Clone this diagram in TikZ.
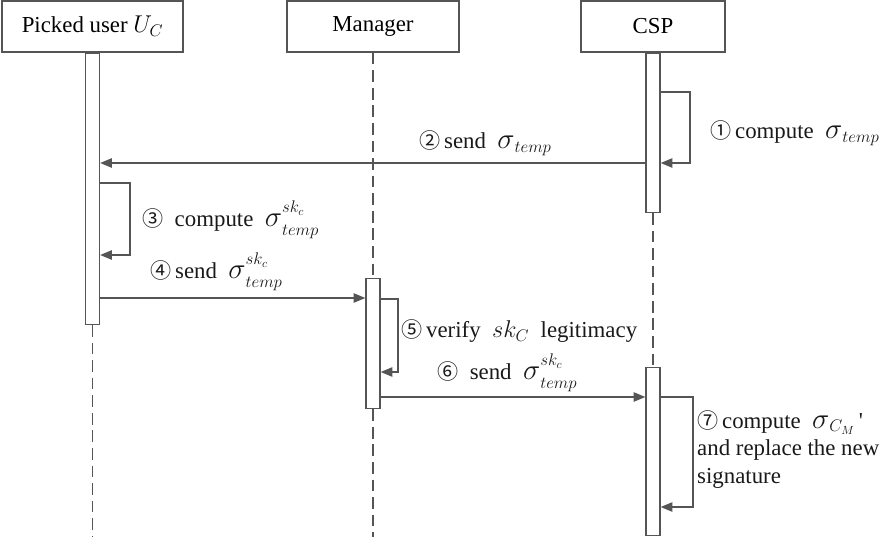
\documentclass[tikz,border=0pt]{standalone}
\usepackage{fontspec}
\setmainfont{Liberation Serif}
\newfontfamily\circfont{Noto Sans CJK SC}
\usetikzlibrary{arrows.meta}
\usetikzlibrary{positioning}
\definecolor{linegray}{HTML}{555555}
\newcommand{\circnum}[1]{\hbox{\circfont\fontsize{18}{20}\selectfont #1}}
\newcommand{\bigsig}{\mbox{\fontsize{27}{30}\selectfont$\sigma$}}
\newcommand{\sigsk}{${\bigsig}^{\raisebox{4pt}{$\scriptstyle sk_c$}}_{\raisebox{-3pt}{$\scriptstyle temp$}}$}

\begin{document}
\begin{tikzpicture}[x=0.03cm, y=-0.03cm, font=\fontsize{19.5}{23.5}\selectfont,
    actor/.style={draw=linegray, fill=white, line width=1.1pt, minimum height=1.53cm, inner sep=0},
    bar/.style={draw=linegray, fill=white, line width=1.1pt, minimum width=0.42cm, inner sep=0, anchor=north},
    life/.style={draw=linegray, line width=1.1pt, dash pattern=on 10pt off 5pt},
    msg/.style={draw=linegray, line width=1.1pt, -{Triangle[length=10pt,width=8pt]}},
    lbl/.style={anchor=west, inner sep=0, text=black!90}]
        \useasboundingbox (0,0) rectangle (893,537);

        % lifelines heads
        \node[actor, minimum width=5.43cm] (user) at (92.5,26.5) {Picked user $U_C$};
        \node[actor, minimum width=5.16cm] (mgr) at (373,26.5) {Manager};
        \node[actor, minimum width=4.32cm] (csp) at (653,26.5) {CSP};

        % activation bars
        \node[bar, minimum height=8.13cm] (user1) at (user.south) {};
        \node[bar, minimum height=4.77cm] (csp1) at (csp.south) {};
        \node[bar, minimum height=3.90cm] (mgr1) at (mgr.south |- 0,278) {};
        \node[bar, minimum height=5.04cm] (csp2) at (csp.south |- 0,367) {};

        \draw[life] (user1.south) -- (user1.south |- 0,537);
        \draw[life] (mgr.south) -- (mgr1.north);
        \draw[life] (mgr1.south) -- (mgr1.south |- 0,537);
        \draw[life] (csp1.south) -- (csp2.north);

        % messages
        \draw[msg] (csp1.east |- 0,92) -| (690,163) -- (csp1.east |- 0,163);
        \draw[msg] (csp1.west |- 0,163) -- (user1.east |- 0,163);
        \draw[msg] (user1.east |- 0,183) -| (130,255) -- (user1.east |- 0,255);
        \draw[msg] (user1.east |- 0,298) -- (mgr1.west |- 0,298);
        \draw[msg] (mgr1.east |- 0,299) -| (398,372) -- (mgr1.east |- 0,372);
        \draw[msg] (mgr1.east |- 0,397) -- (csp2.west |- 0,397);
        \draw[msg] (csp2.east |- 0,397) -| (693,507) -- (csp2.east |- 0,507);

        % labels
        \node[lbl] (t1) at (710,133) {\circnum{①}\,compute\ \ ${\bigsig}_{temp}$};
        \node[lbl] (t2) at (419,143) {\circnum{②}\,send\ \ ${\bigsig}_{temp}$};
        \node[lbl] (t3) at (142,220) {\circnum{③}\ \ compute\ \ \sigsk};
        \node[lbl] (t4) at (150,272) {\circnum{④}\,send\ \ \sigsk};
        \node[lbl] (t5) at (401,331) {\circnum{⑤}\,verify\ \ $sk_C$\ \ legitimacy};
        \node[lbl] (t6) at (437,373) {\circnum{⑥}\ \ send\ \ \sigsk};
        \node[lbl, anchor=north west, align=left] (t7) at (697,410)
            {\circnum{⑦}\,compute\ \ ${\bigsig}_{C_M}$\,\textquotesingle\\and replace the new\\signature};
    \end{tikzpicture}
\end{document}
